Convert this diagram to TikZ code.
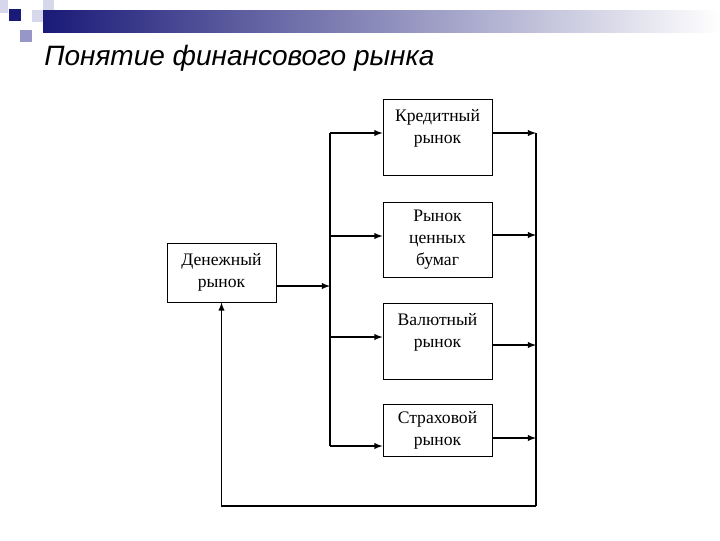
\documentclass[tikz,border=0pt]{standalone}
\usepackage{fontspec}
\setmainfont{Liberation Serif}
\newfontfamily\titlefont{Liberation Sans}
\usetikzlibrary{arrows}
\definecolor{navy}{RGB}{26,26,120}
\definecolor{lavender}{RGB}{150,150,200}
\definecolor{pale}{RGB}{215,215,235}

\tikzset{
  mkt/.style={draw, line width=0.75pt, inner sep=0pt, minimum width=81.75pt,
    align=center, font=\fontsize{13.2}{16.5}\selectfont},
  conn/.style={line width=1.1pt},
  arr/.style={conn, -latex}
}

\begin{document}
\begin{tikzpicture}[x=0.75pt,y=-0.75pt]
\useasboundingbox (0,0) rectangle (720,540);
\fill[white] (0,0) rectangle (720,540);

\shade[left color=navy, right color=white] (43,10) rectangle (720,32);
\fill[pale] (0,0) rectangle (8,13);
\fill[navy] (9,9) rectangle (21,21);
\fill[pale] (32,10) rectangle (43,22);
\fill[lavender] (20,30) rectangle (32,42);
\fill[pale] (43,0) rectangle (54,10);

\node[anchor=base west, inner sep=0pt, font=\titlefont\itshape\fontsize{21}{25}\selectfont] (title) at (44,65) {Понятие финансового рынка};

\node[mkt, minimum height=44.25pt] (den) at (221.5,272.5) {Денежный\\рынок};
\node[mkt, minimum height=57pt] (kred) at (437.5,137.5) {Кредитный\\рынок\\~};
\node[mkt, minimum height=56.25pt] (cen) at (437.5,239.5) {Рынок\\ценных\\бумаг};
\node[mkt, minimum height=57pt] (val) at (437.5,341) {Валютный\\рынок\\~};
\node[mkt, minimum height=39pt] (strah) at (437.5,430) {Страховой\\рынок};

\coordinate (l1) at (330,133);
\coordinate (l2) at (330,236);
\coordinate (l3) at (330,337);
\coordinate (l4) at (330,446);
\coordinate (lm) at (330,286);
\coordinate (r1) at (536,133);
\coordinate (r2) at (536,235);
\coordinate (r3) at (536,345);
\coordinate (r4) at (536,438);
\coordinate (rb) at (536,506);

\draw[conn] (l1) -- (l4);
\draw[arr] (den.east |- lm) -- (lm);
\draw[arr] (l1) -- (l1 -| kred.west);
\draw[arr] (l2) -- (l2 -| cen.west);
\draw[arr] (l3) -- (l3 -| val.west);
\draw[arr] (l4) -- (l4 -| strah.west);

\draw[arr] (kred.east |- r1) -- (r1);
\draw[arr] (cen.east |- r2) -- (r2);
\draw[arr] (val.east |- r3) -- (r3);
\draw[arr] (strah.east |- r4) -- (r4);
\draw[conn] (r1) -- (rb);
\draw[arr] (rb) -- (rb -| den.south) -- (den.south);
\end{tikzpicture}
\end{document}
